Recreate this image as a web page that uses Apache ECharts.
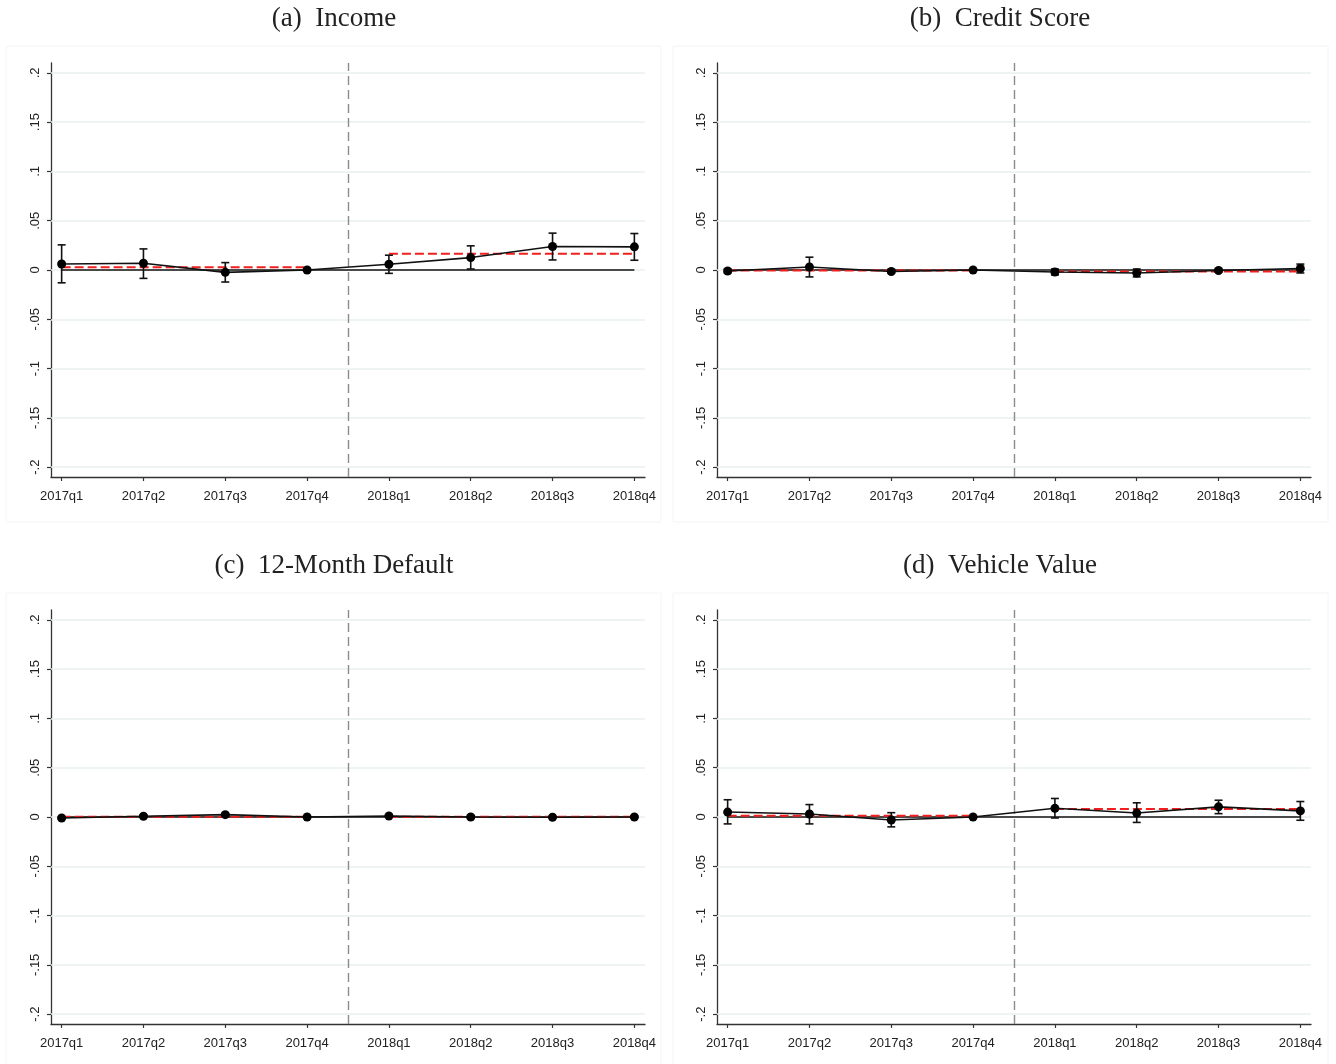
<!DOCTYPE html>
<html>
<head>
<meta charset="utf-8">
<title>Event study estimates</title>
<script src="https://cdn.jsdelivr.net/npm/echarts@6/dist/echarts.min.js"></script>
<style>
  html, body { margin: 0; padding: 0; background: #fff; }
  #chart { width: 1336px; height: 1064px; }
</style>
</head>
<body>
<div id="chart"></div>
<script>
// Quarter labels along the horizontal axis
const quarters = ['2017q1', '2017q2', '2017q3', '2017q4', '2018q1', '2018q2', '2018q3', '2018q4'];

// Vertical axis ticks and their Stata-style labels
const yTickValues = [-0.2, -0.15, -0.1, -0.05, 0, 0.05, 0.1, 0.15, 0.2];
const yTickLabels = ['-.2', '-.15', '-.1', '-.05', '0', '.05', '.1', '.15', '.2'];

const panelTitles = ['(a)  Income', '(b)  Credit Score', '(c)  12-Month Default', '(d)  Vehicle Value'];

// (a) Income: quarterly coefficients, 95% bounds, pre/post averages
const incomeEst  = [0.0061, 0.0068, -0.0024, 0, 0.0058, 0.0126, 0.0238, 0.0235];
const incomeLow  = [-0.0130, -0.0085, -0.0122, null, -0.0034, 0.0010, 0.0102, 0.0099];
const incomeHigh = [0.0255, 0.0214, 0.0075, null, 0.0150, 0.0245, 0.0374, 0.0370];
const incomeMeans = [0.0027, 0.0166];

// (b) Credit score
const creditEst  = [-0.0010, 0.0030, -0.0015, 0, -0.0020, -0.0030, -0.0005, 0.0015];
const creditLow  = [-0.0030, -0.0070, -0.0030, null, -0.0050, -0.0070, -0.0020, -0.0030];
const creditHigh = [0.0010, 0.0130, 0.0005, null, 0.0010, 0.0010, 0.0010, 0.0060];
const creditMeans = [-0.0005, -0.0015];

// (c) 12-month default
const defaultEst  = [-0.0010, 0.0008, 0.0024, 0, 0.0010, 0.0000, -0.0003, 0.0000];
const defaultLow  = [-0.0020, -0.0005, 0.0010, null, -0.0003, -0.0015, -0.0010, -0.0008];
const defaultHigh = [0.0000, 0.0020, 0.0038, null, 0.0023, 0.0015, 0.0004, 0.0008];
const defaultMeans = [0.0003, 0.0002];

// (d) Vehicle value
const vehicleEst  = [0.0050, 0.0030, -0.0030, 0, 0.0088, 0.0040, 0.0103, 0.0062];
const vehicleLow  = [-0.0070, -0.0070, -0.0100, null, -0.0010, -0.0055, 0.0034, -0.0033];
const vehicleHigh = [0.0175, 0.0126, 0.0044, null, 0.0188, 0.0144, 0.0170, 0.0157];
const vehicleMeans = [0.0013, 0.0082];

const panels = [
  { est: incomeEst,  low: incomeLow,  high: incomeHigh,  means: incomeMeans },
  { est: creditEst,  low: creditLow,  high: creditHigh,  means: creditMeans },
  { est: defaultEst, low: defaultLow, high: defaultHigh, means: defaultMeans },
  { est: vehicleEst, low: vehicleLow, high: vehicleHigh, means: vehicleMeans }
];

// Plot-area geometry for the 2x2 arrangement
const gridLefts = [51, 717, 51, 717];
const gridTops = [63, 63, 610, 610];
const plotW = 594, plotH = 414;
const boxLefts = [6, 673, 6, 673];
const boxTops = [46, 46, 593, 593];
const titleCenters = [[334, 19], [1000, 19], [334, 566], [1000, 566]];

const sans = 'Liberation Sans, Arial, sans-serif';
const axisColor = '#333';
const gridColor = '#e8f0f1';

const grids = [], xAxes = [], yAxes = [], series = [], graphics = [];

panels.forEach((p, i) => {
  grids.push({ left: gridLefts[i], top: gridTops[i], width: plotW, height: plotH });

  xAxes.push({
    type: 'value', gridIndex: i, min: -0.13, max: 7.13,
    splitLine: { show: false },
    axisLine: { onZero: false, lineStyle: { color: axisColor, width: 1.3 } },
    axisTick: { customValues: quarters.map((q, k) => k), length: 4, lineStyle: { color: axisColor, width: 1.2 } },
    axisLabel: {
      customValues: quarters.map((q, k) => k),
      formatter: v => quarters[Math.round(v)],
      color: '#222', fontFamily: sans, fontSize: 13, margin: 13
    }
  });

  yAxes.push({
    type: 'value', gridIndex: i, min: -0.21, max: 0.21,
    splitLine: { show: false },
    axisLine: { show: true, onZero: false, lineStyle: { color: axisColor, width: 1.3 } },
    axisTick: { show: true, customValues: yTickValues, length: 4, lineStyle: { color: axisColor, width: 1.2 } },
    axisLabel: {
      customValues: yTickValues,
      rotate: 90,
      formatter: v => {
        let k = 0;
        yTickValues.forEach((t, j) => { if (Math.abs(t - v) < Math.abs(yTickValues[k] - v)) k = j; });
        return yTickLabels[k];
      },
      color: '#222', fontFamily: sans, fontSize: 13, margin: 9
    }
  });

  // Horizontal reference grid and the treatment-date divider
  series.push({
    type: 'line', xAxisIndex: i, yAxisIndex: i, data: [], silent: true, z: 1,
    markLine: {
      z: 1, silent: true, symbol: 'none', animation: false, label: { show: false },
      data: yTickValues.map(v => ({ yAxis: v, lineStyle: { color: gridColor, width: 1.5, type: 'solid' } }))
        .concat([{ xAxis: 3.5, lineStyle: { color: '#8c8c8c', width: 1.4, type: [9, 5] } }])
    }
  });

  // Zero line
  series.push({
    type: 'line', xAxisIndex: i, yAxisIndex: i, z: 2, silent: true,
    data: [[0, 0], [quarters.length - 1, 0]],
    showSymbol: false, lineStyle: { color: '#111', width: 1.3 }, animation: false
  });

  // Pre- and post-period averages
  series.push({
    type: 'line', xAxisIndex: i, yAxisIndex: i, z: 3, silent: true,
    data: [[0, p.means[0]], [3, p.means[0]]],
    showSymbol: false, lineStyle: { color: '#f0201e', width: 2, type: [9, 4] }, animation: false
  });
  series.push({
    type: 'line', xAxisIndex: i, yAxisIndex: i, z: 3, silent: true,
    data: [[4, p.means[1]], [7, p.means[1]]],
    showSymbol: false, lineStyle: { color: '#f0201e', width: 2, type: [9, 4] }, animation: false
  });

  // Confidence intervals with caps
  const ciData = [];
  p.est.forEach((e, k) => { if (p.low[k] !== null) ciData.push([k, p.low[k], p.high[k]]); });
  series.push({
    type: 'custom', xAxisIndex: i, yAxisIndex: i, z: 4, silent: true, animation: false,
    data: ciData,
    encode: { x: 0, y: [1, 2] },
    renderItem: (params, api) => {
      const x = api.value(0);
      const top = api.coord([x, api.value(2)]);
      const bot = api.coord([x, api.value(1)]);
      const cap = 4;
      const st = { stroke: '#111', lineWidth: 1.6 };
      return {
        type: 'group',
        children: [
          { type: 'line', shape: { x1: top[0], y1: top[1], x2: bot[0], y2: bot[1] }, style: st },
          { type: 'line', shape: { x1: top[0] - cap, y1: top[1], x2: top[0] + cap, y2: top[1] }, style: st },
          { type: 'line', shape: { x1: bot[0] - cap, y1: bot[1], x2: bot[0] + cap, y2: bot[1] }, style: st }
        ]
      };
    }
  });

  // Point estimates
  series.push({
    type: 'line', xAxisIndex: i, yAxisIndex: i, z: 5, silent: true, animation: false,
    data: p.est.map((e, k) => [k, e]),
    symbol: 'circle', symbolSize: 9, showSymbol: true,
    itemStyle: { color: '#000' },
    lineStyle: { color: '#111', width: 1.6 }
  });

  graphics.push({
    type: 'rect', silent: true,
    shape: { x: boxLefts[i], y: boxTops[i], width: 655, height: 476 },
    style: { fill: 'none', stroke: '#f4f4f4', lineWidth: 1 }
  });
  graphics.push({
    type: 'text', silent: true,
    x: titleCenters[i][0], y: titleCenters[i][1],
    style: {
      text: panelTitles[i], fill: '#222',
      font: '27px "Liberation Serif", "Times New Roman", serif',
      textAlign: 'center', textVerticalAlign: 'middle'
    }
  });
});

const chart = echarts.init(document.getElementById('chart'), null, { renderer: 'canvas' });
chart.setOption({
  animation: false,
  backgroundColor: '#fff',
  grid: grids,
  xAxis: xAxes,
  yAxis: yAxes,
  series: series,
  graphic: graphics
});
</script>
</body>
</html>
